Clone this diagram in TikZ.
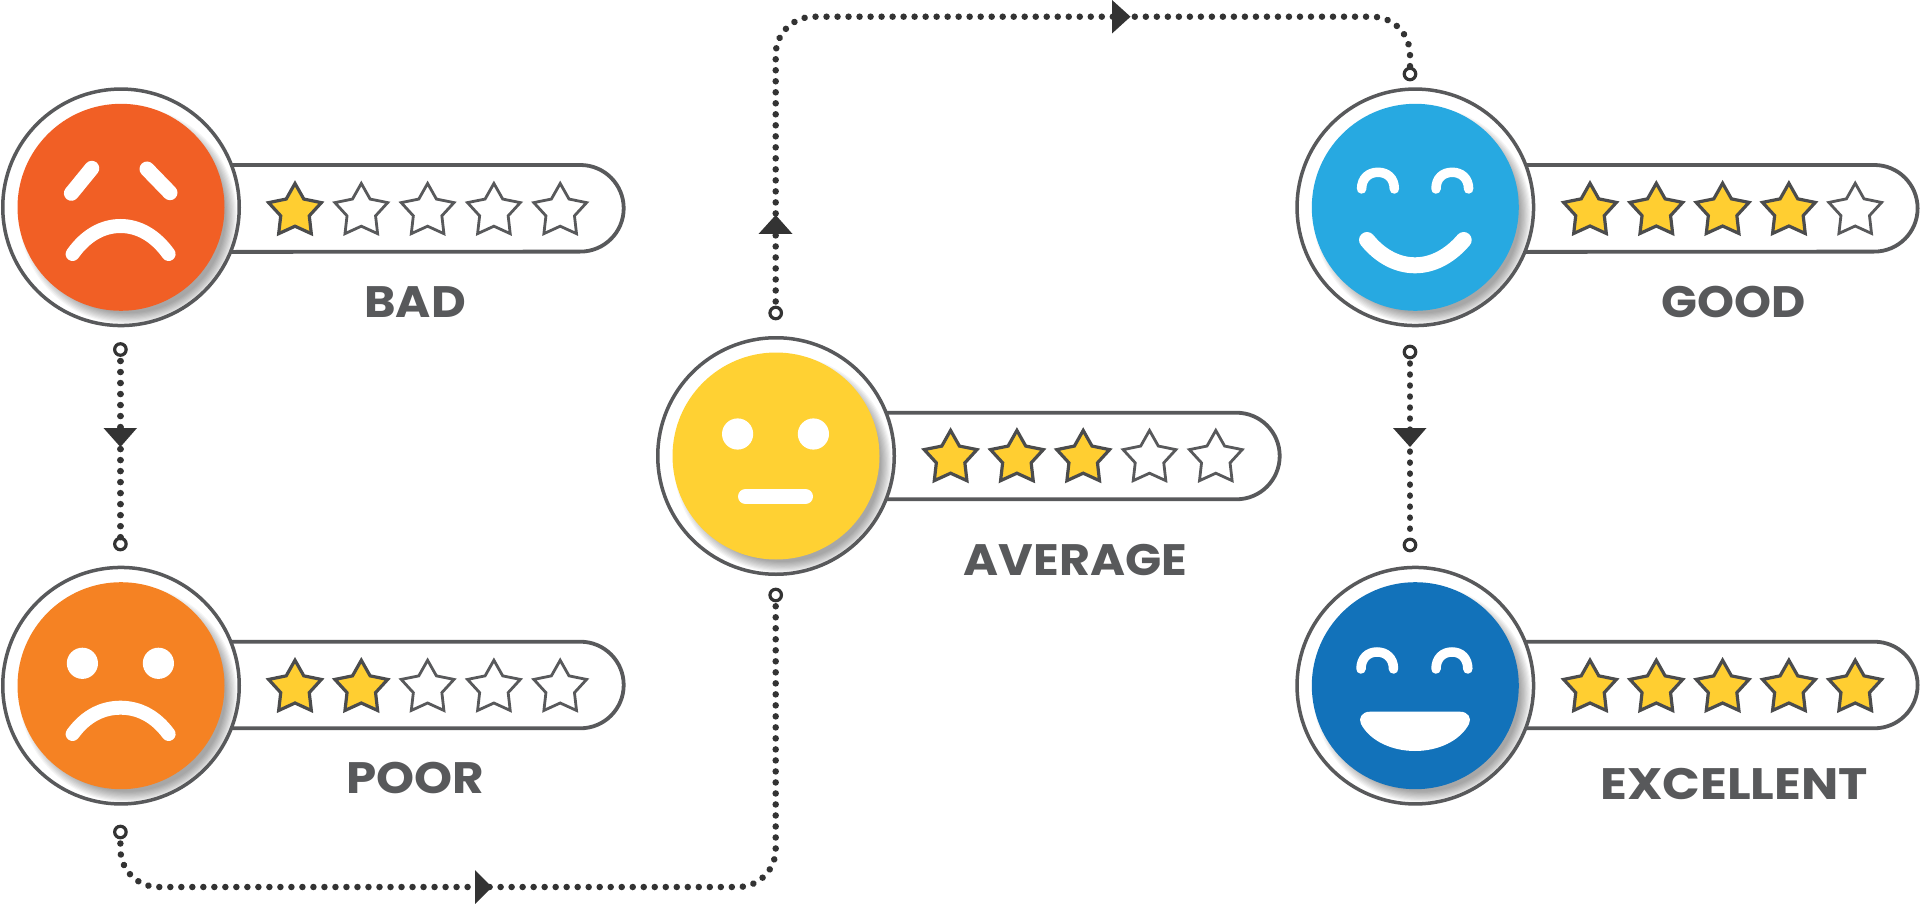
\documentclass[tikz,border=0pt]{standalone}
\usepackage{fontspec}
\usetikzlibrary{shapes.geometric}
\newfontfamily\lblfont{Poppins}
\definecolor{ink}{HTML}{58595B}
\definecolor{dotc}{HTML}{333333}
\definecolor{starc}{HTML}{FFCE31}
\definecolor{cbad}{HTML}{F15F25}
\definecolor{cpoor}{HTML}{F58223}
\definecolor{cavg}{HTML}{FFD133}
\definecolor{cgood}{HTML}{27A9E1}
\definecolor{cexc}{HTML}{1272BA}
\tikzset{
  outerring/.style={circle,draw=ink,fill=white,line width=3.5pt,minimum size=236.5pt,inner sep=0pt,outer sep=0pt},
  facedisc/.style={circle,minimum size=207pt,inner sep=0pt,outer sep=0pt},
  pillbar/.style={draw=ink,fill=white,line width=3.8pt},
  fullstar/.style={star,star points=5,star point ratio=1.85,minimum size=55.5pt,inner sep=0pt,outer sep=0pt,draw=ink!85!black,fill=starc,line width=3.2pt,line join=miter},
  emptystar/.style={star,star points=5,star point ratio=1.85,minimum size=55.5pt,inner sep=0pt,outer sep=0pt,draw=ink,fill=white,line width=2.8pt,line join=miter},
  lbl/.style={anchor=base,text=ink,inner sep=0pt,font=\lblfont\bfseries\fontsize{44}{44}\selectfont},
  smallring/.style={circle,draw=dotc,fill=white,line width=3.2pt,minimum size=11.5pt,inner sep=0pt,outer sep=0pt},
  dotline/.style={draw=dotc,line width=6.5pt,line cap=round,dash pattern=on 0.01pt off 11pt,dash phase=5.25pt},
  headfill/.style={fill=dotc},
  feature/.style={draw=white,line cap=round,line width=14pt},
  eyearc/.style={draw=white,line cap=round,line width=9.5pt},
}
% \gauge{name}{cx}{cy}{pill top}{pill bottom}{pill right}{facecolour}
\newcommand{\gauge}[7]{%
  \path[pillbar] (#2,#4) -- (#6-43.3,#4) arc[start angle=-90,end angle=90,radius=43.3] -- (#2,#5) -- cycle;
  \node[outerring] (#1ring) at (#2,#3) {};
  \begin{scope}
    \clip (#2,#3) circle (116.5);
    \foreach \k in {0,...,9} {
      \fill[black,opacity=0.04] (#2+7,#3+8) circle ({98+\k*1.2});
    }
  \end{scope}
  \node[facedisc,fill=#7] (#1face) at (#2,#3) {};
}
% \starrow{name}{x0}{y}{filled count}
\newcommand{\starrow}[4]{%
  \foreach \i in {1,...,5} {
    \pgfmathtruncatemacro{\isfull}{\i<=#4 ? 1 : 0}
    \ifnum\isfull=1
      \node[fullstar] (#1s\i) at ({#2+(\i-1)*66.3},#3) {};
    \else
      \node[emptystar] (#1s\i) at ({#2+(\i-1)*66.3},#3) {};
    \fi
  }%
}
\begin{document}
\begin{tikzpicture}[x=1pt,y=-1pt]
\useasboundingbox (0,0) rectangle (1920,904);
\fill[white] (0,0) rectangle (1920,904);

% gauges
\gauge{bad}{121}{207.3}{165}{252}{623.7}{cbad}
\gauge{poor}{121}{685.7}{641.7}{728.3}{623.7}{cpoor}
\gauge{avg}{776}{456}{412.7}{499.3}{1279.7}{cavg}
\gauge{good}{1415.3}{207.3}{165}{252}{1917.6}{cgood}
\gauge{exc}{1415.3}{685.7}{641.7}{728.3}{1917.6}{cexc}

\starrow{bad}{295}{211.2}{1}
\starrow{poor}{295}{688}{2}
\starrow{avg}{950.6}{458.2}{3}
\starrow{good}{1590}{211}{4}
\starrow{exc}{1590}{688}{5}

\node[lbl] (badlabel) at (415,317) {\scalebox{1.087}[1]{BAD}};
\node[lbl] (poorlabel) at (415,793) {\scalebox{1.1}[1]{POOR}};
\node[lbl] (avglabel) at (1075.5,575) {\scalebox{1.08}[1]{AVERAGE}};
\node[lbl] (goodlabel) at (1734,317.5) {\scalebox{1.07}[1]{GOOD}};
\node[lbl] (exclabel) at (1734,799) {\scalebox{1.127}[1]{EXCELLENT}};

% face features: BAD
\draw[feature,line width=15pt] (71.4,193.3) -- (91.8,168.3);
\draw[feature,line width=15pt] (147,169) -- (170,192.7);
\draw[feature] (72.6,254) .. controls (86,235) and (103,226) .. (120.5,226) .. controls (138,226) and (155,235) .. (168.6,254);
% POOR
\fill[white] (82.4,663.3) circle (15.6);
\fill[white] (158.4,663.3) circle (15.6);
\draw[feature] (72.6,734) .. controls (86,715.5) and (103,707.7) .. (120.5,707.7) .. controls (138,707.7) and (155,715.5) .. (168.6,734);
% AVERAGE
\fill[white] (737.6,434) circle (15.6);
\fill[white] (813.4,434) circle (15.6);
\draw[feature,line width=15pt] (745.5,496.5) -- (805.5,496.5);
% GOOD
\draw[eyearc] (1361.6,189) .. controls (1361.6,178) and (1369,172.3) .. (1378,172.3) .. controls (1387,172.3) and (1394.3,178) .. (1394.3,189);
\draw[eyearc] (1436,189) .. controls (1436,178) and (1443,172.3) .. (1452.3,172.3) .. controls (1461,172.3) and (1468.6,178) .. (1468.6,189);
\draw[feature,line width=16pt] (1367,240) .. controls (1380,256) and (1397,265.3) .. (1415,265.3) .. controls (1433,265.3) and (1450,256) .. (1463.7,240);
% EXCELLENT
\draw[eyearc] (1361,669) .. controls (1361,658) and (1368,652) .. (1377,652) .. controls (1386,652) and (1393.5,658) .. (1393.5,669);
\draw[eyearc] (1436,669) .. controls (1436,658) and (1443,652) .. (1452,652) .. controls (1461,652) and (1467.8,658) .. (1467.8,669);
\fill[white] (1370,711.7) -- (1460,711.7) .. controls (1468,711.7) and (1472,718) .. (1469,724) .. controls (1460,741) and (1438,751) .. (1415,751) .. controls (1392,751) and (1370,741) .. (1361,724) .. controls (1358,718) and (1362,711.7) .. (1370,711.7) -- cycle;

% connector ends
\node[smallring] (badout) at (120.4,349.5) {};
\node[smallring] (poorin) at (120.4,544) {};
\node[smallring] (poorout) at (120.4,832) {};
\node[smallring] (avgin) at (775.7,595) {};
\node[smallring] (avgout) at (775.7,313) {};
\node[smallring] (goodin) at (1410,74) {};
\node[smallring] (goodout) at (1410,352) {};
\node[smallring] (excin) at (1410,545) {};
\coordinate (cornerA) at (120.4,887);
\coordinate (cornerB) at (775.7,887);
\coordinate (cornerC) at (775.7,16.7);
\coordinate (cornerD) at (1410,16.7);

% connectors
\draw[dotline] (badout.south) -- (poorin.north);
\draw[dotline,rounded corners=38pt] (poorout.south) -- (cornerA) -- (cornerB) -- (avgin.south);
\draw[dotline,rounded corners=38pt] (avgout.north) -- (cornerC) -- (cornerD) -- (goodin.north);
\draw[dotline] (goodout.south) -- (excin.north);

% arrowheads
\fill[headfill] (103.5,428) -- (137,428) -- (120.4,447) -- cycle;
\fill[headfill] (1393,428) -- (1426.5,428) -- (1410,447) -- cycle;
\fill[headfill] (475,870) -- (475,904) -- (492,887) -- cycle;
\fill[headfill] (1112,0) -- (1112,33.5) -- (1130.5,16.7) -- cycle;
\fill[headfill] (758.5,234) -- (792.5,234) -- (775.7,215) -- cycle;
\end{tikzpicture}
\end{document}
